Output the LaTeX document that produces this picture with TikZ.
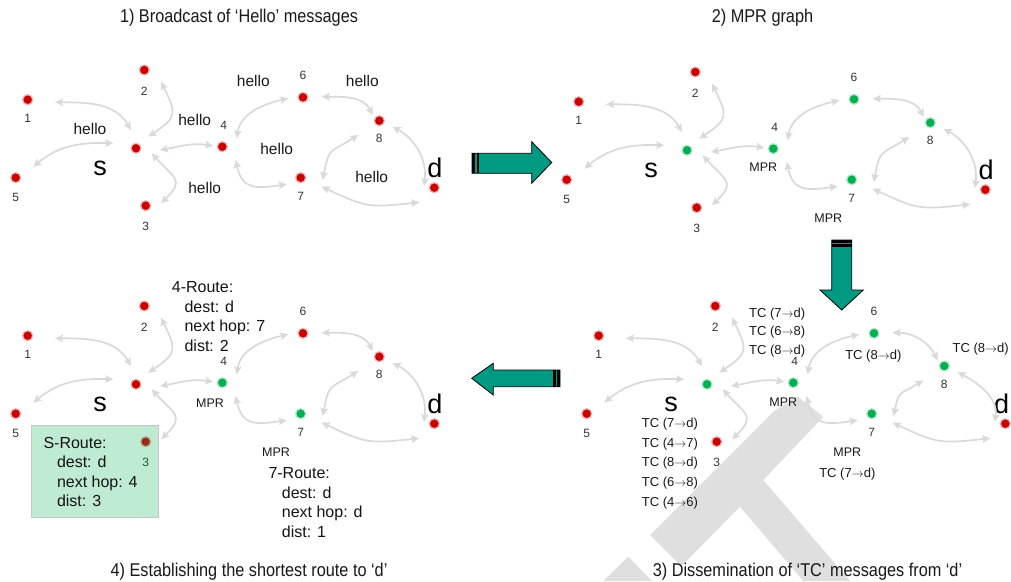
\documentclass[tikz,border=0pt]{standalone}
\usepackage{fontspec}
\setmainfont{Liberation Sans}
\newfontfamily\titlefont[FakeStretch=0.88]{Liberation Sans}
\usetikzlibrary{arrows.meta,calc}

\definecolor{nred}{RGB}{204,0,0}
\definecolor{ngreen}{RGB}{0,176,80}
\definecolor{linkgray}{RGB}{217,217,217}
\definecolor{tealfill}{RGB}{0,153,130}
\definecolor{wmgray}{RGB}{223,223,223}
\definecolor{labgray}{RGB}{51,51,51}

\tikzset{
  dot/.style={circle, inner sep=0pt, minimum size=10pt, fill=#1, draw=#1!30, line width=1.2pt},
  numlab/.style={font=\fontsize{12}{14}\selectfont, text=labgray, inner sep=0pt},
  biglab/.style={font=\fontsize{27}{30}\selectfont, inner sep=0pt},
  hellolab/.style={font=\fontsize{15.5}{18}\selectfont, text=black!90, inner sep=0pt},
  tclab/.style={font=\fontsize{13}{15}\selectfont, text=black!90, inner sep=0pt},
  mprlab/.style={font=\fontsize{12.5}{15}\selectfont, text=black!90, inner sep=0pt},
  routetext/.style={font=\fontsize{16}{19.5}\selectfont, align=left, anchor=north west, inner sep=0pt, text=black!92},
  titlelab/.style={font=\titlefont\fontsize{18.5}{22}\selectfont, inner sep=0pt, text=black!90},
  link/.style={draw=linkgray, line width=1.7pt,
    {Stealth[length=8pt,width=7.5pt,inset=1.5pt]}-{Stealth[length=8pt,width=7.5pt,inset=1.5pt]}},
  bigarrow/.style={fill=tealfill, draw=black, line width=0.8pt, line join=miter},
  sroutebox/.style={fill=ngreen, fill opacity=0.25, draw=black!22, line width=0.8pt, inner sep=0pt},
}

% #1 prefix, #2 colour s, #3 colour 4, #4 colour 6, #5 colour 7, #6 colour 8, #7 position of 8, #8 position of label d
\newcommand\Graph[8]{%
  \node[dot=nred] (#11) at (27.7,-99.7) {};
  \node[dot=nred] (#12) at (144.3,-70) {};
  \node[dot=#2]   (#1s) at (136,-148.3) {};
  \node[dot=#3]   (#14) at (222.3,-146.7) {};
  \node[dot=nred] (#15) at (15.7,-177.7) {};
  \node[dot=nred] (#13) at (145.7,-205.7) {};
  \node[dot=#4]   (#16) at (303,-97.3) {};
  \node[dot=#6]   (#18) at (#7) {};
  \node[dot=#5]   (#17) at (300.7,-177.7) {};
  \node[dot=nred] (#1d) at (434.3,-187.7) {};
  \node[numlab] (#1t1) at ([yshift=-19pt]#11.center) {1};
  \node[numlab] (#1t2) at ([yshift=-21pt]#12.center) {2};
  \node[numlab] (#1t3) at ([yshift=-21pt]#13.center) {3};
  \node[numlab] (#1t5) at ([yshift=-20pt]#15.center) {5};
  \node[numlab] (#1t4) at ([shift={(1.5,21.5)}]#14.center) {4};
  \node[numlab] (#1t6) at ([yshift=22pt]#16.center) {6};
  \node[numlab] (#1t8) at ([yshift=-18pt]#18.center) {8};
  \node[numlab] (#1t7) at ([yshift=-19pt]#17.center) {7};
  \node[biglab] (#1ls) at (100,-168.3) {s};
  \node[biglab] (#1ld) at (#8) {d};
  \draw[link] ([shift={(27.3,-2.6)}]#11.center) to[out=0,in=120] ([shift={(-5,18.3)}]#1s.center);
  \draw[link] ([shift={(16.7,-11.7)}]#12.center) to[out=-64,in=34,looseness=1.6] ([shift={(12.3,11.6)}]#1s.center);
  \draw[link] ([shift={(17.6,11)}]#15.center) to[out=40,in=178] ([shift={(-22.7,5)}]#1s.center);
  \draw[link] ([shift={(24,-1.7)}]#1s.center) to[out=10,in=170] ([shift={(-9,0.7)}]#14.center);
  \draw[link] ([shift={(15.7,-5)}]#1s.center) to[out=-48,in=44,looseness=1.7] ([shift={(15.3,2.4)}]#13.center);
  \draw[link] ([shift={(14.4,8.4)}]#14.center) to[out=81,in=193] ([shift={(-14.7,-1)}]#16.center);
  \draw[link] ([shift={(13.4,-13.3)}]#14.center) to[out=-78,in=188,looseness=1.4] ([shift={(-14,-6.6)}]#17.center);
  \draw[link] ([shift={(18.7,0.6)}]#16.center) to[out=0,in=117] ([shift={(-6.6,5.7)}]#18.center);
  \draw[link] ([shift={(-21,-14.3)}]#18.center) to[out=212,in=79,looseness=1.5] ([shift={(22,-2.3)}]#17.center);
  \draw[link] ([shift={(13.4,-6)}]#18.center) to[out=-29,in=83] ([shift={(-10.3,1.7)}]#1d.center);
  \draw[link] ([shift={(21,-9)}]#17.center) to[out=-25,in=186,looseness=1.3] ([shift={(-15,-14.6)}]#1d.center);
}

\begin{document}
\begin{tikzpicture}[x=1pt,y=1pt]
\useasboundingbox (0,0) rectangle (1011,-581);
\fill[white] (0,0) rectangle (1011,-581);

% watermark
\fill[wmgray] (773.3,-411.7) -- (797,-396) -- (823.3,-416.7) -- (763.3,-480) -- (850,-581)
   -- (803.3,-581) -- (740,-506.7) -- (681.3,-566.3) -- (650,-535) -- cycle;
\fill[wmgray] (628.3,-556.7) -- (603.3,-581) -- (652,-581) -- cycle;

% titles
\node[titlelab] (t1) at (239,-18) {1) Broadcast of ‘Hello’ messages};
\node[titlelab] (t2) at (762.5,-18) {2) MPR graph};
\node[titlelab] (t3) at (807.5,-572) {3) Dissemination of ‘TC’ messages from ‘d’};
\node[titlelab] (t4) at (249,-572) {4) Establishing the shortest route to ‘d’};

% panel 1
\begin{scope}
  \Graph{A}{nred}{nred}{nred}{nred}{nred}{379.3,-120.7}{435,-168.3}
\end{scope}
\node[hellolab] (h1) at (90,-129.3) {hello};
\node[hellolab] (h2) at (194.7,-120) {hello};
\node[hellolab] (h3) at (253.3,-80.7) {hello};
\node[hellolab] (h4) at (362.3,-80.7) {hello};
\node[hellolab] (h5) at (276.7,-149) {hello};
\node[hellolab] (h6) at (204.7,-187.7) {hello};
\node[hellolab] (h7) at (371.7,-176.7) {hello};

% panel 2
\begin{scope}[shift={(551,-2)}]
  \Graph{B}{ngreen}{ngreen}{ngreen}{ngreen}{ngreen}{379.3,-120.7}{435,-168.3}
\end{scope}
\node[mprlab] (bm4) at (763.3,-167.3) {MPR};
\node[mprlab] (bm7) at (828.3,-217.7) {MPR};

% panel 3
\begin{scope}[shift={(571,-236)}]
  \Graph{C}{ngreen}{ngreen}{ngreen}{ngreen}{ngreen}{373.3,-130}{430.5,-168.3}
\end{scope}
\node[mprlab] (cm4) at (783.3,-402) {MPR};
\node[mprlab] (cm7) at (847.3,-452) {MPR};
\node[tclab] (ct7) at (847.3,-474.3) {TC (7$\rightarrow$d)};
\node[tclab] (ct6) at (873.3,-356) {TC (8$\rightarrow$d)};
\node[tclab, anchor=west] (ct8) at (952.5,-349.3) {TC (8$\rightarrow$d)};
\node[tclab, anchor=west] (cta) at (749,-314.3) {TC (7$\rightarrow$d)};
\node[tclab, anchor=west] (ctb) at (749,-331.9) {TC (6$\rightarrow$8)};
\node[tclab, anchor=west] (ctc) at (749,-351) {TC (8$\rightarrow$d)};
\node[tclab, anchor=west] (cs1) at (641.7,-424.3) {TC (7$\rightarrow$d)};
\node[tclab, anchor=west] (cs2) at (641.7,-444) {TC (4$\rightarrow$7)};
\node[tclab, anchor=west] (cs3) at (641.7,-463.5) {TC (8$\rightarrow$d)};
\node[tclab, anchor=west] (cs4) at (641.7,-483.3) {TC (6$\rightarrow$8)};
\node[tclab, anchor=west] (cs5) at (641.7,-503.3) {TC (4$\rightarrow$6)};

% panel 4
\begin{scope}[shift={(0,-236)}]
  \Graph{D}{nred}{ngreen}{nred}{ngreen}{nred}{379.3,-120.7}{435,-168.3}
\end{scope}
\node[mprlab] (dm4) at (210,-403) {MPR};
\node[mprlab] (dm7) at (276,-452) {MPR};
\node[sroutebox, anchor=north west, minimum width=127pt, minimum height=92pt] (sbox) at (31,-425) {};
\node[routetext] (r4) at (171.7,-281.5) {4-Route:\\\hspace*{12.7pt}dest: d\\\hspace*{12.7pt}next hop: 7\\\hspace*{12.7pt}dist: 2};
\node[routetext] (rs) at (43.3,-437) {S-Route:\\\hspace*{13.5pt}dest: d\\\hspace*{13.5pt}next hop: 4\\\hspace*{13.5pt}dist: 3};
\node[routetext] (r7) at (268.3,-467.5) {7-Route:\\\hspace*{13.4pt}dest: d\\\hspace*{13.4pt}next hop: d\\\hspace*{13.4pt}dist: 1};

% big arrows
\draw[bigarrow] (472,-153.3) -- (531.7,-153.3) -- (531.7,-141.7) -- (551.7,-162.5)
   -- (531.7,-183.3) -- (531.7,-173.3) -- (472,-173.3) -- cycle;
\fill[black] (472,-153.3) rectangle (475,-173.3);
\fill[black] (476.6,-153.3) rectangle (479.2,-173.3);

\draw[bigarrow] (831.7,-240) -- (851.7,-240) -- (851.7,-290) -- (863.3,-290)
   -- (841.7,-310) -- (820,-290) -- (831.7,-290) -- cycle;
\fill[black] (831.7,-240) rectangle (851.7,-242.8);
\fill[black] (831.7,-244.3) rectangle (851.7,-246.8);

\draw[bigarrow] (560,-370) -- (493.3,-370) -- (493.3,-363.3) -- (471.7,-378.3)
   -- (493.3,-395) -- (493.3,-386.7) -- (560,-386.7) -- cycle;
\fill[black] (553.2,-370) rectangle (555.8,-386.7);
\fill[black] (557.3,-370) rectangle (560,-386.7);
\end{tikzpicture}
\end{document}
